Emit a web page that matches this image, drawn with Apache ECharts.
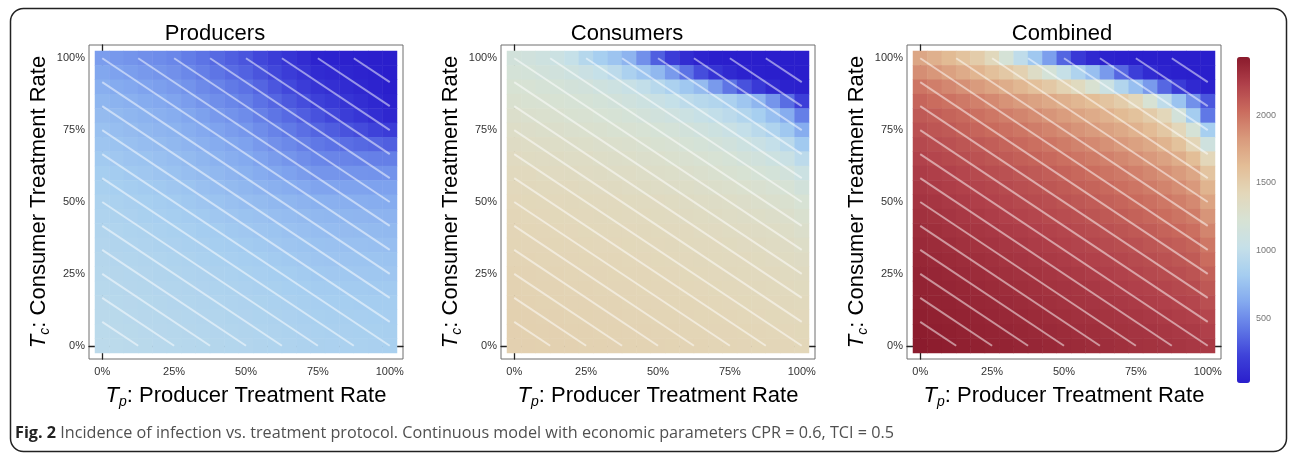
<!DOCTYPE html>
<html>
<head>
<meta charset="utf-8">
<title>Fig. 2 - Incidence of infection vs. treatment protocol</title>
<script src="https://cdn.jsdelivr.net/npm/echarts@6.0.0/dist/echarts.min.js"></script>
<style>
	html, body { margin: 0; padding: 0; background: #fff; }
	#main { width: 1292px; height: 453px; }
</style>
</head>
<body>
<div id="main"></div>
<script>
// treatment rate levels (%) on both axes, one cell each
var tpLevels = [0, 5, 10, 15, 20, 25, 30, 35, 40, 45, 50, 55, 60, 65, 70, 75, 80, 85, 90, 95, 100];
var tcLevels = [0, 5, 10, 15, 20, 25, 30, 35, 40, 45, 50, 55, 60, 65, 70, 75, 80, 85, 90, 95, 100];
var axisTicks = [0, 25, 50, 75, 100];
var colorbarLabels = [500, 1000, 1500, 2000];
var colorbarTicks = [100, 200, 300, 400, 500, 600, 700, 800, 900, 1000, 1100, 1200,
	1300, 1400, 1500, 1600, 1700, 1800, 1900, 2000, 2100, 2200, 2300, 2400];
var valueMin = 20;
var valueMax = 2430;
var panelTitles = ['Producers', 'Consumers', 'Combined'];

// incidence, rows from Tc = 100% (top) down to Tc = 0%, columns Tp = 0% .. 100%
var producers = [
	[570, 550, 535, 515, 500, 480, 440, 405, 365, 330, 290, 240, 195, 145, 100, 50, 45, 38, 32, 26, 20],
	[610, 590, 575, 555, 540, 520, 485, 450, 410, 375, 340, 290, 240, 190, 140, 90, 76, 62, 48, 34, 20],
	[650, 630, 615, 595, 580, 560, 530, 495, 465, 430, 400, 350, 295, 245, 190, 140, 117, 94, 71, 48, 25],
	[690, 670, 655, 635, 620, 600, 570, 540, 510, 480, 450, 400, 355, 305, 260, 210, 175, 140, 110, 75, 40],
	[720, 705, 690, 670, 655, 640, 610, 585, 555, 530, 500, 455, 410, 370, 325, 280, 240, 195, 155, 110, 70],
	[750, 735, 720, 700, 685, 670, 645, 620, 595, 570, 545, 505, 465, 430, 390, 350, 320, 285, 255, 220, 190],
	[775, 760, 745, 730, 715, 700, 680, 655, 635, 610, 590, 555, 520, 490, 455, 420, 400, 385, 365, 350, 330],
	[800, 785, 770, 760, 745, 730, 710, 690, 665, 645, 625, 595, 565, 540, 510, 480, 475, 470, 460, 455, 450],
	[825, 810, 795, 785, 770, 755, 735, 715, 700, 680, 660, 635, 610, 590, 565, 540, 540, 535, 535, 530, 530],
	[845, 830, 820, 805, 795, 780, 765, 745, 730, 710, 695, 675, 655, 640, 620, 600, 600, 595, 595, 590, 590],
	[865, 855, 840, 830, 815, 805, 790, 775, 760, 745, 730, 715, 700, 690, 675, 660, 655, 650, 645, 640, 635],
	[880, 870, 860, 845, 835, 825, 810, 800, 785, 775, 760, 750, 735, 725, 710, 700, 695, 690, 685, 680, 675],
	[895, 885, 875, 865, 855, 845, 835, 820, 810, 795, 785, 775, 765, 750, 740, 730, 725, 720, 715, 710, 705],
	[905, 895, 885, 880, 870, 860, 850, 840, 825, 815, 805, 795, 785, 775, 765, 755, 750, 745, 745, 740, 735],
	[915, 905, 900, 890, 885, 875, 865, 855, 845, 835, 825, 815, 805, 795, 785, 775, 770, 770, 765, 765, 760],
	[925, 918, 910, 903, 895, 888, 879, 871, 862, 854, 845, 835, 825, 815, 805, 795, 792, 789, 786, 783, 780],
	[932, 925, 918, 912, 905, 898, 890, 883, 875, 868, 860, 850, 841, 831, 822, 812, 810, 807, 805, 802, 800],
	[940, 933, 927, 920, 914, 907, 900, 893, 886, 879, 872, 863, 854, 846, 837, 828, 825, 823, 820, 818, 815],
	[947, 941, 934, 928, 921, 915, 909, 902, 896, 889, 883, 875, 866, 858, 850, 842, 839, 836, 834, 831, 828],
	[953, 947, 941, 934, 928, 922, 916, 910, 905, 899, 893, 885, 877, 868, 860, 852, 849, 846, 844, 841, 838],
	[960, 954, 948, 942, 936, 930, 924, 919, 913, 908, 902, 894, 886, 878, 870, 862, 859, 855, 852, 848, 845]
];

var consumers = [
	[1160, 1140, 1110, 1080, 1020, 920, 830, 770, 680, 520, 330, 190, 100, 50, 25, 20, 20, 20, 20, 20, 20],
	[1190, 1180, 1160, 1140, 1110, 1070, 1020, 960, 860, 780, 700, 560, 400, 260, 140, 80, 45, 30, 25, 20, 20],
	[1230, 1220, 1200, 1190, 1170, 1150, 1120, 1090, 1050, 1000, 930, 860, 790, 720, 560, 410, 280, 170, 80, 40, 30],
	[1260, 1250, 1240, 1230, 1215, 1200, 1180, 1160, 1130, 1100, 1060, 1020, 970, 930, 900, 860, 780, 690, 540, 380, 200],
	[1290, 1280, 1270, 1260, 1250, 1240, 1225, 1210, 1190, 1170, 1145, 1115, 1080, 1040, 1000, 960, 900, 830, 740, 640, 450],
	[1320, 1310, 1300, 1290, 1280, 1270, 1260, 1250, 1240, 1225, 1205, 1185, 1160, 1130, 1100, 1060, 1010, 950, 880, 790, 640],
	[1345, 1340, 1330, 1320, 1315, 1305, 1295, 1285, 1275, 1265, 1250, 1235, 1215, 1195, 1170, 1140, 1100, 1060, 1010, 950, 800],
	[1370, 1360, 1355, 1350, 1340, 1335, 1325, 1315, 1305, 1295, 1285, 1270, 1255, 1240, 1220, 1200, 1170, 1140, 1100, 1060, 960],
	[1390, 1385, 1375, 1370, 1365, 1355, 1350, 1340, 1335, 1325, 1315, 1305, 1290, 1280, 1265, 1250, 1230, 1205, 1180, 1150, 1080],
	[1405, 1400, 1395, 1390, 1385, 1375, 1370, 1365, 1355, 1350, 1340, 1330, 1320, 1310, 1300, 1285, 1270, 1255, 1235, 1210, 1160],
	[1420, 1415, 1410, 1405, 1400, 1395, 1390, 1385, 1380, 1375, 1370, 1360, 1350, 1340, 1330, 1320, 1310, 1295, 1280, 1260, 1220],
	[1430, 1425, 1420, 1415, 1410, 1405, 1400, 1395, 1390, 1385, 1380, 1375, 1365, 1360, 1350, 1340, 1330, 1320, 1310, 1295, 1260],
	[1440, 1435, 1430, 1425, 1420, 1415, 1410, 1410, 1405, 1400, 1395, 1390, 1385, 1375, 1370, 1360, 1355, 1345, 1335, 1320, 1295],
	[1445, 1440, 1440, 1435, 1430, 1425, 1420, 1420, 1415, 1410, 1405, 1400, 1395, 1390, 1385, 1380, 1370, 1365, 1355, 1345, 1320],
	[1450, 1450, 1445, 1440, 1440, 1435, 1430, 1430, 1425, 1420, 1415, 1410, 1405, 1400, 1395, 1390, 1385, 1380, 1370, 1360, 1345],
	[1460, 1455, 1450, 1450, 1445, 1440, 1440, 1435, 1430, 1430, 1425, 1420, 1415, 1410, 1405, 1400, 1395, 1390, 1385, 1375, 1365],
	[1465, 1460, 1455, 1455, 1450, 1450, 1445, 1440, 1440, 1435, 1430, 1430, 1425, 1420, 1415, 1410, 1405, 1400, 1395, 1390, 1380],
	[1470, 1465, 1460, 1460, 1455, 1455, 1450, 1450, 1445, 1440, 1440, 1435, 1435, 1430, 1425, 1420, 1415, 1410, 1405, 1400, 1395],
	[1475, 1470, 1465, 1465, 1460, 1460, 1455, 1455, 1450, 1450, 1445, 1445, 1440, 1435, 1435, 1430, 1425, 1420, 1415, 1410, 1405],
	[1478, 1475, 1470, 1470, 1465, 1465, 1460, 1460, 1455, 1455, 1450, 1450, 1445, 1445, 1440, 1440, 1435, 1430, 1425, 1420, 1415],
	[1480, 1478, 1475, 1472, 1470, 1468, 1465, 1462, 1460, 1458, 1455, 1452, 1450, 1447, 1445, 1442, 1440, 1437, 1434, 1430, 1425]
];

var combined = [
	[1760, 1700, 1640, 1580, 1510, 1400, 1200, 980, 790, 580, 350, 170, 80, 40, 30, 25, 25, 25, 25, 25, 25],
	[1880, 1840, 1790, 1730, 1670, 1600, 1540, 1470, 1330, 1190, 1030, 880, 740, 560, 360, 200, 90, 50, 30, 25, 25],
	[1990, 1950, 1910, 1870, 1820, 1770, 1720, 1660, 1600, 1540, 1460, 1380, 1250, 1080, 900, 740, 560, 360, 180, 80, 40],
	[2060, 2030, 2000, 1970, 1940, 1900, 1860, 1820, 1780, 1740, 1700, 1660, 1620, 1570, 1510, 1420, 1220, 980, 760, 520, 300],
	[2110, 2090, 2065, 2040, 2010, 1980, 1950, 1920, 1885, 1850, 1810, 1770, 1730, 1690, 1640, 1590, 1520, 1420, 1170, 820, 420],
	[2150, 2130, 2110, 2085, 2060, 2035, 2010, 1985, 1955, 1925, 1890, 1855, 1820, 1780, 1740, 1690, 1630, 1550, 1420, 1200, 830],
	[2190, 2170, 2150, 2130, 2110, 2090, 2065, 2040, 2015, 1990, 1960, 1930, 1900, 1865, 1830, 1790, 1740, 1680, 1590, 1440, 1120],
	[2220, 2200, 2185, 2165, 2145, 2125, 2105, 2085, 2065, 2040, 2015, 1990, 1965, 1935, 1905, 1870, 1830, 1780, 1720, 1620, 1420],
	[2250, 2235, 2220, 2200, 2185, 2165, 2150, 2130, 2110, 2090, 2070, 2045, 2020, 1995, 1970, 1940, 1905, 1865, 1820, 1760, 1570],
	[2270, 2255, 2240, 2225, 2210, 2195, 2180, 2160, 2145, 2125, 2105, 2085, 2065, 2040, 2015, 1990, 1960, 1925, 1885, 1830, 1680],
	[2290, 2280, 2265, 2250, 2235, 2220, 2205, 2190, 2175, 2160, 2140, 2120, 2100, 2080, 2060, 2035, 2010, 1980, 1945, 1900, 1770],
	[2310, 2300, 2285, 2270, 2260, 2245, 2230, 2215, 2200, 2185, 2170, 2155, 2135, 2115, 2095, 2075, 2050, 2025, 1995, 1960, 1850],
	[2330, 2320, 2305, 2295, 2280, 2270, 2255, 2245, 2230, 2215, 2200, 2185, 2170, 2150, 2135, 2115, 2095, 2070, 2045, 2015, 1920],
	[2345, 2335, 2325, 2310, 2300, 2290, 2275, 2265, 2250, 2240, 2225, 2210, 2195, 2180, 2165, 2150, 2130, 2110, 2090, 2065, 1980],
	[2360, 2350, 2340, 2330, 2320, 2310, 2295, 2285, 2275, 2260, 2250, 2235, 2225, 2210, 2195, 2180, 2165, 2145, 2125, 2105, 2030],
	[2375, 2365, 2355, 2345, 2335, 2325, 2315, 2305, 2295, 2280, 2270, 2260, 2245, 2235, 2220, 2205, 2190, 2175, 2160, 2140, 2080],
	[2385, 2375, 2370, 2360, 2350, 2340, 2330, 2320, 2310, 2300, 2290, 2280, 2270, 2255, 2245, 2230, 2220, 2205, 2190, 2175, 2120],
	[2395, 2385, 2380, 2370, 2360, 2355, 2345, 2335, 2325, 2315, 2305, 2295, 2285, 2275, 2265, 2255, 2240, 2230, 2215, 2200, 2160],
	[2405, 2395, 2390, 2380, 2375, 2365, 2355, 2350, 2340, 2330, 2320, 2310, 2305, 2295, 2285, 2275, 2265, 2255, 2240, 2230, 2200],
	[2415, 2405, 2400, 2390, 2385, 2375, 2370, 2360, 2350, 2345, 2335, 2325, 2320, 2310, 2300, 2290, 2285, 2275, 2265, 2255, 2230],
	[2425, 2415, 2410, 2400, 2395, 2385, 2380, 2370, 2365, 2355, 2345, 2340, 2330, 2325, 2315, 2305, 2300, 2290, 2280, 2270, 2260]
];

// white iso-cost guide lines (start / end, in % of Tp and Tc)
var lineX0 = [0, 0, 0, 0, 0, 0, 0, 0, 0, 0, 0, 0, 12.5, 25, 37.5, 50, 62.5, 75, 87.5];
var lineY0 = [8.33, 16.67, 25, 33.33, 41.67, 50, 58.33, 66.67, 75, 83.33, 91.67, 100, 100, 100, 100, 100, 100, 100, 100];
var lineX1 = [12.5, 25, 37.5, 50, 62.5, 75, 87.5, 100, 100, 100, 100, 100, 100, 100, 100, 100, 100, 100, 100];
var lineY1 = [0, 0, 0, 0, 0, 0, 0, 0, 8.33, 16.67, 25, 33.33, 41.67, 50, 58.33, 66.67, 75, 83.33, 91.67];

// thermometer-like colour ramp, low -> high
var rampColors = ['#2a1ecc', '#3e42d9', '#6078e6', '#84aaef', '#a6cef0', '#c6e0e8', '#d7e2d4',
	'#e3d7b9', '#e3bd96', '#d99a7c', '#ca6c5e', '#b0404a', '#8a1a2c'];

var FONT = '"Liberation Sans", Arial, Helvetica, sans-serif';
var CAPTION_FONT = '"Open Sans", "Noto Sans", sans-serif';
var frameLeft = [89, 501, 907];
var frameTop = 45;
var frameSize = 314;
var inset = 6;
var titleX = [215, 627, 1062];

function toCells(rows) {
	var out = [];
	rows.forEach(function(row, r) {
		row.forEach(function(v, c) {
			out.push([c, rows.length - 1 - r, v]);
		});
	});
	return out;
}

function guideLines() {
	var segs = [];
	for (var i = 0; i < lineX0.length; i++) {
		segs.push({ coords: [[lineX0[i], lineY0[i]], [lineX1[i], lineY1[i]]] });
	}
	return segs;
}

function nameRich() {
	return {
		t: { fontFamily: FONT, fontSize: 22, fontStyle: 'italic', color: '#000', lineHeight: 26 },
		s: { fontFamily: FONT, fontSize: 14, fontStyle: 'italic', color: '#000', lineHeight: 14, verticalAlign: 'bottom' },
		n: { fontFamily: FONT, fontSize: 22, color: '#000', lineHeight: 26 }
	};
}

function buildOption() {
	var grids = [], xAxes = [], yAxes = [], series = [], graphics = [];
	var panels = [producers, consumers, combined];

	// heatmap grids (category axes, hidden)
	panels.forEach(function(rows, i) {
		grids.push({
			left: frameLeft[i] + inset, top: frameTop + inset,
			width: frameSize - 2 * inset, height: frameSize - 2 * inset,
			outerBoundsMode: 'none'
		});
		xAxes.push({ type: 'category', gridIndex: i, data: tpLevels, show: false });
		yAxes.push({ type: 'category', gridIndex: i, data: tcLevels, show: false });
		series.push({
			type: 'heatmap', xAxisIndex: i, yAxisIndex: i,
			data: toCells(rows),
			itemStyle: { borderWidth: 0 },
			emphasis: { disabled: true },
			progressive: 0,
			silent: true
		});
	});

	// framed value axes on top, for ticks / labels / guide lines
	panels.forEach(function(rows, i) {
		var g = 3 + i;
		grids.push({
			left: frameLeft[i], top: frameTop, width: frameSize, height: frameSize,
			show: true, borderColor: '#6e6e6e', borderWidth: 1,
			backgroundColor: 'transparent',
			outerBoundsMode: 'none'
		});
		xAxes.push({
			type: 'value', gridIndex: g, min: -4.6, max: 104.6, position: 'bottom',
			axisLine: { show: true, lineStyle: { color: '#222', width: 1.3 } },
			axisTick: { show: true, inside: true, length: 4, customValues: axisTicks, lineStyle: { color: '#222', width: 1 } },
			axisLabel: { customValues: axisTicks, formatter: '{value}%', fontFamily: FONT, fontSize: 11, color: '#333', margin: 7 },
			splitLine: { show: false },
			name: '{t|T}{s|p}{n|: Producer Treatment Rate}',
			nameLocation: 'middle', nameGap: 24,
			nameTextStyle: { rich: nameRich() }
		});
		yAxes.push({
			type: 'value', gridIndex: g, min: -4.6, max: 104.6, position: 'left',
			axisLine: { show: true, lineStyle: { color: '#222', width: 1.3 } },
			axisTick: { show: true, inside: true, length: 4, customValues: axisTicks, lineStyle: { color: '#222', width: 1 } },
			axisLabel: { customValues: axisTicks, formatter: '{value}%', fontFamily: FONT, fontSize: 11, color: '#333', margin: 4 },
			splitLine: { show: false },
			name: '{t|T}{s|c}{n|: Consumer Treatment Rate}',
			nameLocation: 'middle', nameGap: 37,
			nameTextStyle: { rich: nameRich() }
		});
		series.push({
			type: 'lines', coordinateSystem: 'cartesian2d',
			xAxisIndex: g, yAxisIndex: g,
			data: guideLines(),
			lineStyle: { color: '#ffffff', width: 2, opacity: 0.5 },
			silent: true, z: 5
		});
		graphics.push({
			type: 'text', x: titleX[i], y: 33.5,
			style: { text: panelTitles[i], font: '22px ' + FONT, fill: '#000', textAlign: 'center', textVerticalAlign: 'middle' }
		});
	});

	// colour bar axis
	grids.push({ left: 1237, top: 57, width: 13, height: 326, outerBoundsMode: 'none' });
	xAxes.push({ type: 'value', gridIndex: 6, show: false, min: 0, max: 1 });
	yAxes.push({
		type: 'value', gridIndex: 6, min: valueMin, max: valueMax, position: 'right',
		axisLine: { show: false },
		axisTick: { show: true, length: 4, customValues: colorbarTicks, lineStyle: { color: '#a8a8a8', width: 1 } },
		axisLabel: {
			customValues: colorbarLabels, fontFamily: FONT, fontSize: 9, color: '#777', margin: 6,
			formatter: function(v) { return String(v); }
		},
		splitLine: { show: false }
	});

	graphics.push({
		type: 'rect', silent: true,
		shape: { x: 10.5, y: 8.5, width: 1276, height: 443, r: 13 },
		style: { fill: 'none', stroke: '#222', lineWidth: 1.5 }
	});
	graphics.push({
		type: 'text', x: 15, y: 433,
		style: {
			text: '{b|Fig. 2} Incidence of infection vs. treatment protocol. Continuous model with economic parameters CPR = 0.6, TCI = 0.5',
			font: '16.2px ' + CAPTION_FONT,
			fill: '#505050', textVerticalAlign: 'middle',
			rich: { b: { fontFamily: CAPTION_FONT, fontSize: 16.2, fontWeight: 'bold', fill: '#222' } }
		}
	});

	return {
		animation: false,
		backgroundColor: '#fff',
		grid: grids,
		xAxis: xAxes,
		yAxis: yAxes,
		visualMap: {
			type: 'continuous', show: true, calculable: false,
			min: valueMin, max: valueMax, dimension: 2,
			seriesIndex: [0, 1, 2],
			left: 1237, top: 57, itemWidth: 13, itemHeight: 326, padding: 0,
			orient: 'vertical', text: null, hoverLink: false,
			inRange: { color: rampColors }
		},
		graphic: graphics,
		series: series
	};
}

document.addEventListener('DOMContentLoaded', function() {
	var chart = echarts.init(document.getElementById('main'), null, { renderer: 'canvas' });
	chart.setOption(buildOption());
});
</script>
</body>
</html>
